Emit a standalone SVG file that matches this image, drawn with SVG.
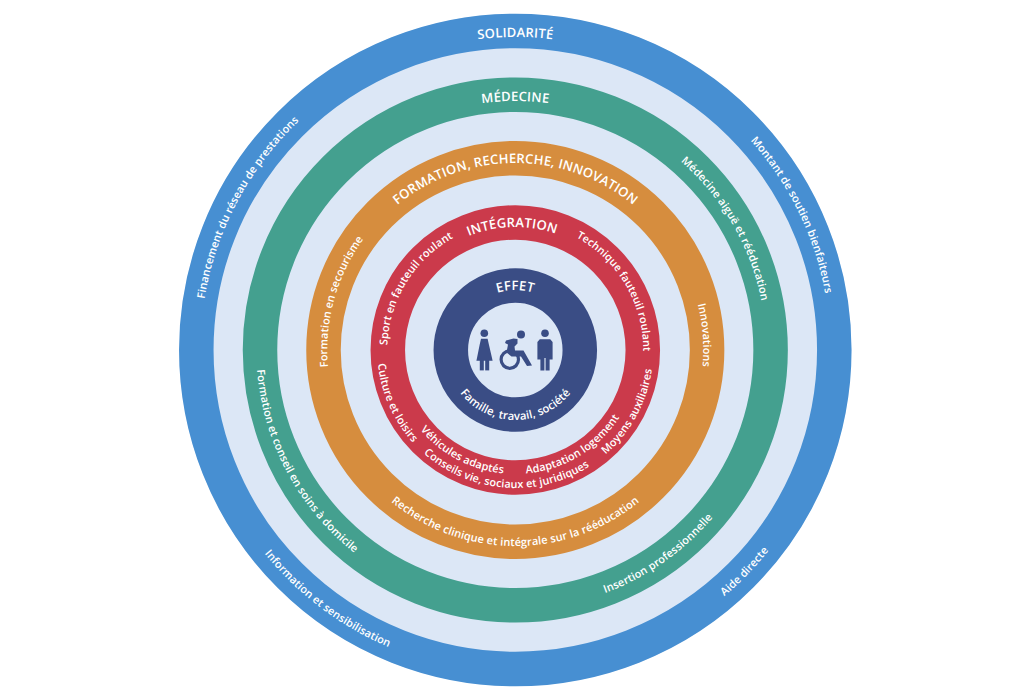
<svg xmlns="http://www.w3.org/2000/svg" xmlns:xlink="http://www.w3.org/1999/xlink" width="1030" height="700" viewBox="0 0 1030 700">
<style>
.ring{fill:none;stroke-width:34.5}
text{font-family:"Open Sans","Noto Sans","Liberation Sans",sans-serif;font-weight:600;fill:#fff;text-anchor:middle;font-size:10.85px;letter-spacing:.1px}
.h{font-size:13px;letter-spacing:.2px}
.s{font-size:10.6px}
.m{font-size:11.3px}
.ic{fill:#3a4d85}
</style>
<defs>
<path id="c313" d="M515.3 663A313 313 0 1 1 515.3 37A313 313 0 1 1 515.3 663"/>
<path id="c315" d="M515.3 665A315 315 0 1 1 515.3 35A315 315 0 1 1 515.3 665"/>
<path id="c249" d="M515.3 599A249 249 0 1 1 515.3 101A249 249 0 1 1 515.3 599"/>
<path id="c251" d="M515.3 601A251 251 0 1 1 515.3 99A251 251 0 1 1 515.3 601"/>
<path id="c187" d="M515.3 537A187 187 0 1 1 515.3 163A187 187 0 1 1 515.3 537"/>
<path id="c188" d="M515.3 538A188 188 0 1 1 515.3 162A188 188 0 1 1 515.3 538"/>
<path id="c128" d="M515.3 478A128 128 0 1 1 515.3 222A128 128 0 1 1 515.3 478"/>
<path id="c123" d="M515.3 473A123 123 0 1 1 515.3 227A123 123 0 1 1 515.3 473"/>
<path id="c60" d="M515.3 410A60 60 0 1 1 515.3 290A60 60 0 1 1 515.3 410"/>
<path id="a323" d="M515.3 27A323 323 0 1 0 515.3 673A323 323 0 1 0 515.3 27"/>
<path id="a259" d="M515.3 91A259 259 0 1 0 515.3 609A259 259 0 1 0 515.3 91"/>
<path id="a196" d="M515.3 154A196 196 0 1 0 515.3 546A196 196 0 1 0 515.3 154"/>
<path id="a138" d="M515.3 212A138 138 0 1 0 515.3 488A138 138 0 1 0 515.3 212"/>
<path id="a124" d="M515.3 226A124 124 0 1 0 515.3 474A124 124 0 1 0 515.3 226"/>
<path id="a70" d="M515.3 280A70 70 0 1 0 515.3 420A70 70 0 1 0 515.3 280"/>
</defs>
<rect width="1030" height="700" fill="#fff"/>
<circle id="disc" cx="515.3" cy="350" r="336" fill="#dce7f6"/>
<g id="solidarite">
<circle class="ring" cx="515.3" cy="350" r="319" stroke="#478fd2"/>
<text class="h"><textPath href="#c313" startOffset="50%">SOLIDARITÉ</textPath></text>
<text transform="rotate(64 515.3 350)"><textPath href="#c315" startOffset="50%">Montant de soutien bienfaiteurs</textPath></text>
<text transform="rotate(-62 515.3 350)"><textPath href="#c315" startOffset="50%">Financement du réseau de prestations</textPath></text>
<text transform="rotate(37 515.3 350)"><textPath href="#a323" startOffset="50%">Information et sensibilisation</textPath></text>
<text transform="rotate(-46 515.3 350)"><textPath href="#a323" startOffset="50%">Aide directe</textPath></text>
</g>
<g id="medecine">
<circle class="ring" cx="515.3" cy="350" r="255.3" stroke="#44a08f"/>
<text class="h"><textPath href="#c249" startOffset="50%">MÉDECINE</textPath></text>
<text transform="rotate(60 515.3 350)"><textPath href="#c251" startOffset="50%">Médecine aiguë et rééducation</textPath></text>
<text transform="rotate(62 515.3 350)"><textPath href="#a259" startOffset="50%">Formation et conseil en soins à domicile</textPath></text>
<text transform="rotate(-35 515.3 350)"><textPath href="#a259" startOffset="50%">Insertion professionnelle</textPath></text>
</g>
<g id="formation">
<circle class="ring" cx="515.3" cy="350" r="191.8" stroke="#d68d3e"/>
<text class="h"><textPath href="#c187" startOffset="50%">FORMATION, RECHERCHE, INNOVATION</textPath></text>
<text transform="rotate(-74.5 515.3 350)"><textPath href="#c188" startOffset="50%">Formation en secourisme</textPath></text>
<text transform="rotate(85.5 515.3 350)"><textPath href="#c188" startOffset="50%">Innovations</textPath></text>
<text class="m" style="font-size:11px"><textPath href="#a196" startOffset="50%">Recherche clinique et intégrale sur la rééducation</textPath></text>
</g>
<g id="integration">
<circle class="ring" cx="515.3" cy="350" r="127.5" stroke="#cb3a4b"/>
<text class="h" transform="rotate(-1.5 515.3 350)"><textPath href="#c123" startOffset="50%">INTÉGRATION</textPath></text>
<text class="s" transform="rotate(59.5 515.3 350)"><textPath href="#c128" startOffset="50%">Technique fauteuil roulant</textPath></text>
<text transform="rotate(-58.4 515.3 350)"><textPath href="#c128" startOffset="50%">Sport en fauteuil roulant</textPath></text>
<text transform="rotate(66 515.3 350)"><textPath href="#a138" startOffset="50%">Culture et loisirs</textPath></text>
<text transform="rotate(27.7 515.3 350)"><textPath href="#a124" startOffset="50%">Véhicules adaptés</textPath></text>
<text transform="rotate(4.5 515.3 350)"><textPath href="#a138" startOffset="50%">Conseils vie, sociaux et juridiques</textPath></text>
<text transform="rotate(-31 515.3 350)"><textPath href="#a124" startOffset="50%">Adaptation logement</textPath></text>
<text transform="rotate(-61.4 515.3 350)"><textPath href="#a138" startOffset="50%">Moyens auxiliaires</textPath></text>
</g>
<g id="effet">
<circle class="ring" cx="515.3" cy="350" r="64.5" stroke="#3a4d85"/>
<text class="h"><textPath href="#c60" startOffset="50%">EFFET</textPath></text>
<text class="m"><textPath href="#a70" startOffset="50%">Famille, travail, société</textPath></text>
</g>
<g id="icons">
<g id="woman" class="ic">
<circle cx="484.3" cy="333.3" r="3.8"/>
<path d="M481 338.8H487.6L489 345L492 358L492.6 360.8H476.4L477 358L479.6 345Z"/>
<rect x="479.8" y="360" width="4" height="10.4"/>
<rect x="485.2" y="360" width="4" height="10.4"/>
</g>
<g id="wheelchair">
<circle class="ic" cx="521" cy="334.5" r="4"/>
<circle cx="509.8" cy="359.6" r="8.7" fill="none" stroke="#3a4d85" stroke-width="3.2"/>
<path class="ic" d="M506 340.5L513.5 338.5L517.5 339L517.5 343.5L514.5 346.5L515 350.5H523.5L532 365.5L527 366L521 356.5H511.5L506.5 352.5L508 344.5L505 343Z"/>
</g>
<g id="man" class="ic">
<circle cx="545" cy="333.3" r="3.8"/>
<path d="M539.8 339.3H550.2L552.6 342V359.5H549.6V370.4H545.6V358H544.4V370.4H540.4V359.5H537.4V342Z"/>
</g>
</g>
</svg>
